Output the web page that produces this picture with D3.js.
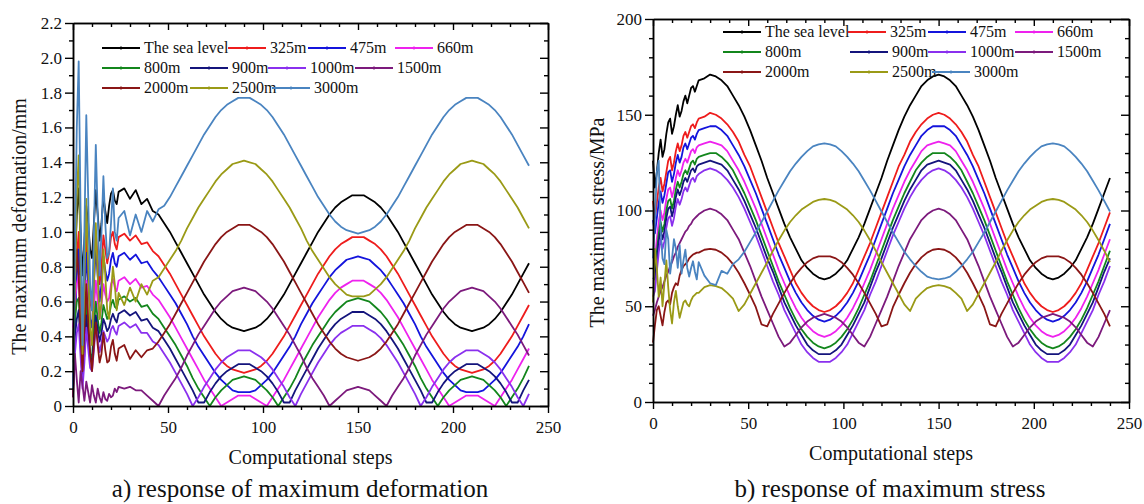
<!DOCTYPE html>
<html>
<head>
<meta charset="utf-8">
<script src="https://cdn.jsdelivr.net/npm/d3@7"></script>
<style>
  html, body { margin: 0; padding: 0; background: #fff; }
  svg { display: block; font-family: "Liberation Serif", "Times New Roman", serif; }
</style>
</head>
<body>
<svg id="chart" width="1144" height="504"></svg>
<script>
// ---------- data ----------
const steps = [0,1,2,3,4,5,6,7,8,9,10,11,12,13,14,15,16,17,18,19,20,21,22,23,24,
  27,30,33,36,39,42,45,48,51,54,57,60,63,66,69,72,75,78,81,84,87,90,93,96,99,102,105,108,111,114,117,
  120,123,126,129,132,135,138,141,144,147,150,153,156,159,162,165,168,171,174,177,180,183,186,189,192,
  195,198,201,204,207,210,213,216,219,222,225,228,231,234,237,240];

const seriesNames = ["The sea level","325m","475m","660m","800m","900m","1000m","1500m","2000m","2500m","3000m"];
const xTicks = [0,50,100,150,200,250];
const deformTicks = [0,0.2,0.4,0.6,0.8,1.0,1.2,1.4,1.6,1.8,2.0,2.2];
const stressTicks = [0,50,100,150,200];

// maximum deformation (mm)
const defSea = [0.30,0.80,1.10,1.25,1.00,0.75,0.95,1.15,1.05,0.90,0.85,1.05,1.24,1.10,0.95,1.05,1.20,1.12,1.05,1.15,1.22,1.24,1.18,1.16,1.23,
  1.25,1.19,1.24,1.16,1.19,1.12,1.10,1.05,1.00,0.94,0.88,0.82,0.76,0.70,0.64,0.59,0.54,0.50,0.47,0.45,0.44,0.43,
  0.44,0.45,0.47,0.50,0.54,0.59,0.64,0.70,0.76,0.82,0.88,0.94,1.00,1.05,1.10,1.14,1.17,1.19,1.21,1.21,
  1.21,1.19,1.17,1.14,1.10,1.05,1.00,0.94,0.88,0.82,0.76,0.70,0.64,0.59,0.54,0.50,0.47,0.45,0.44,0.43,
  0.44,0.45,0.47,0.50,0.54,0.59,0.64,0.70,0.76,0.82];
const def325 = [0.05,0.50,0.85,1.00,0.75,0.45,0.70,0.98,0.80,0.60,0.55,0.80,1.00,0.85,0.70,0.80,0.98,0.90,0.82,0.88,0.97,1.00,0.93,0.90,0.97,
  0.99,0.95,0.98,0.93,0.94,0.89,0.86,0.81,0.76,0.70,0.64,0.58,0.52,0.46,0.40,0.35,0.30,0.26,0.23,0.21,0.20,0.19,
  0.20,0.21,0.23,0.26,0.30,0.35,0.40,0.46,0.52,0.58,0.64,0.70,0.76,0.81,0.86,0.90,0.93,0.95,0.97,0.97,
  0.97,0.95,0.93,0.90,0.86,0.81,0.76,0.70,0.64,0.58,0.52,0.46,0.40,0.35,0.30,0.26,0.23,0.21,0.20,0.19,
  0.20,0.21,0.23,0.26,0.30,0.35,0.40,0.46,0.52,0.58];
const def475 = [0.10,0.45,0.75,0.90,0.60,0.30,0.55,0.88,0.70,0.50,0.45,0.70,0.90,0.75,0.60,0.70,0.86,0.78,0.72,0.76,0.84,0.88,0.82,0.80,0.86,
  0.88,0.84,0.87,0.82,0.83,0.78,0.74,0.69,0.64,0.59,0.53,0.47,0.40,0.34,0.29,0.24,0.19,0.15,0.12,0.09,0.08,0.08,
  0.08,0.09,0.12,0.15,0.19,0.24,0.29,0.34,0.40,0.47,0.53,0.59,0.64,0.69,0.74,0.78,0.81,0.84,0.85,0.86,
  0.85,0.84,0.81,0.78,0.74,0.69,0.64,0.59,0.53,0.47,0.40,0.34,0.29,0.24,0.19,0.15,0.12,0.09,0.08,0.08,
  0.08,0.09,0.12,0.15,0.19,0.24,0.29,0.34,0.40,0.47];
const def660 = [0.45,0.60,0.70,0.75,0.50,0.25,0.45,0.72,0.55,0.40,0.35,0.55,0.72,0.60,0.50,0.58,0.70,0.64,0.60,0.62,0.70,0.73,0.68,0.66,0.72,
  0.74,0.70,0.73,0.68,0.69,0.64,0.61,0.56,0.51,0.45,0.39,0.33,0.27,0.21,0.15,0.10,0.05,0.00,0.02,0.04,0.06,0.06,
  0.06,0.04,0.02,0.00,0.05,0.10,0.15,0.21,0.27,0.33,0.39,0.45,0.51,0.56,0.61,0.65,0.68,0.70,0.72,0.72,
  0.72,0.70,0.68,0.65,0.61,0.56,0.51,0.45,0.39,0.33,0.27,0.21,0.15,0.10,0.05,0.00,0.02,0.04,0.06,0.06,
  0.06,0.04,0.02,0.00,0.05,0.10,0.15,0.21,0.27,0.33];
const def800 = [0.35,0.50,0.60,0.62,0.40,0.20,0.35,0.60,0.45,0.30,0.28,0.45,0.60,0.50,0.42,0.48,0.58,0.54,0.50,0.52,0.58,0.61,0.57,0.56,0.61,
  0.63,0.60,0.62,0.57,0.58,0.53,0.50,0.45,0.40,0.35,0.29,0.23,0.16,0.10,0.05,0.00,0.05,0.09,0.12,0.15,0.16,0.17,
  0.16,0.15,0.12,0.09,0.05,0.00,0.05,0.10,0.16,0.23,0.29,0.35,0.40,0.45,0.50,0.54,0.57,0.60,0.61,0.62,
  0.61,0.60,0.57,0.54,0.50,0.45,0.40,0.35,0.29,0.23,0.16,0.10,0.05,0.00,0.05,0.09,0.12,0.15,0.16,0.17,
  0.16,0.15,0.12,0.09,0.05,0.00,0.05,0.10,0.16,0.23];
const def900 = [0.25,0.40,0.50,0.55,0.35,0.15,0.30,0.52,0.40,0.28,0.25,0.38,0.52,0.44,0.37,0.42,0.50,0.47,0.43,0.45,0.50,0.53,0.50,0.48,0.53,
  0.55,0.52,0.54,0.49,0.50,0.45,0.43,0.38,0.33,0.27,0.21,0.15,0.09,0.02,0.02,0.08,0.13,0.17,0.20,0.22,0.24,0.24,
  0.24,0.22,0.20,0.17,0.13,0.08,0.02,0.02,0.09,0.15,0.21,0.27,0.33,0.38,0.43,0.47,0.50,0.52,0.54,0.54,
  0.54,0.52,0.50,0.47,0.43,0.38,0.33,0.27,0.21,0.15,0.09,0.02,0.02,0.08,0.13,0.17,0.20,0.22,0.24,0.24,
  0.24,0.22,0.20,0.17,0.13,0.08,0.02,0.02,0.09,0.15];
const def1000 = [0.10,0.30,0.42,0.47,0.28,0.10,0.25,0.45,0.33,0.22,0.20,0.32,0.45,0.38,0.31,0.36,0.43,0.40,0.37,0.39,0.44,0.46,0.43,0.41,0.46,
  0.48,0.45,0.47,0.42,0.42,0.37,0.35,0.30,0.25,0.19,0.13,0.07,0.00,0.05,0.11,0.16,0.21,0.25,0.28,0.30,0.32,0.32,
  0.32,0.30,0.28,0.25,0.21,0.16,0.11,0.05,0.00,0.07,0.13,0.19,0.25,0.30,0.35,0.39,0.42,0.44,0.46,0.46,
  0.46,0.44,0.42,0.39,0.35,0.30,0.25,0.19,0.13,0.07,0.00,0.05,0.11,0.16,0.21,0.25,0.28,0.30,0.32,0.32,
  0.32,0.30,0.28,0.25,0.21,0.16,0.11,0.05,0.00,0.07];
const def1500 = [0.05,0.30,0.15,0.02,0.20,0.12,0.03,0.14,0.08,0.02,0.12,0.06,0.02,0.10,0.05,0.02,0.08,0.04,0.03,0.07,0.05,0.06,0.10,0.08,0.11,
  0.10,0.11,0.09,0.09,0.06,0.03,0.00,0.06,0.11,0.16,0.22,0.29,0.35,0.41,0.46,0.51,0.56,0.60,0.63,0.66,0.67,0.68,
  0.67,0.66,0.63,0.60,0.56,0.51,0.46,0.41,0.35,0.29,0.22,0.16,0.11,0.06,0.00,0.03,0.06,0.09,0.10,0.11,
  0.10,0.09,0.06,0.03,0.00,0.06,0.11,0.16,0.22,0.29,0.35,0.41,0.46,0.51,0.56,0.60,0.63,0.66,0.67,0.68,
  0.67,0.66,0.63,0.60,0.56,0.51,0.46,0.41,0.35,0.29];
const def2000 = [0.30,0.70,0.90,0.75,0.40,0.20,0.45,0.70,0.50,0.30,0.20,0.35,0.48,0.35,0.25,0.30,0.42,0.32,0.25,0.26,0.34,0.38,0.30,0.26,0.33,
  0.35,0.27,0.32,0.28,0.32,0.33,0.37,0.42,0.47,0.53,0.59,0.65,0.71,0.77,0.83,0.88,0.93,0.97,1.00,1.02,1.04,1.04,
  1.04,1.02,1.00,0.97,0.93,0.88,0.83,0.77,0.71,0.65,0.59,0.53,0.47,0.42,0.37,0.33,0.30,0.28,0.27,0.26,
  0.27,0.28,0.30,0.33,0.37,0.42,0.47,0.53,0.59,0.65,0.71,0.77,0.83,0.88,0.93,0.97,1.00,1.02,1.04,1.04,
  1.04,1.02,1.00,0.97,0.93,0.88,0.83,0.77,0.71,0.65];
const def2500 = [0.20,0.70,1.20,1.44,0.80,0.30,0.70,1.19,0.80,0.45,0.35,0.70,1.05,0.75,0.50,0.60,0.90,0.75,0.55,0.50,0.65,0.80,0.70,0.55,0.65,
  0.58,0.68,0.60,0.70,0.64,0.72,0.74,0.79,0.84,0.89,0.95,1.02,1.08,1.14,1.19,1.24,1.29,1.33,1.36,1.39,1.40,1.41,
  1.40,1.39,1.36,1.33,1.29,1.24,1.19,1.14,1.08,1.02,0.95,0.89,0.84,0.79,0.74,0.70,0.67,0.64,0.63,0.63,
  0.63,0.64,0.67,0.70,0.74,0.79,0.84,0.89,0.95,1.02,1.08,1.14,1.19,1.24,1.29,1.33,1.36,1.39,1.40,1.41,
  1.40,1.39,1.36,1.33,1.29,1.24,1.19,1.14,1.08,1.02];
const def3000 = [0.10,0.90,1.60,1.98,1.10,0.35,1.00,1.67,1.20,0.70,0.55,1.00,1.50,1.10,0.75,1.00,1.32,1.05,0.85,0.88,1.05,1.25,1.00,0.95,1.08,
  1.12,0.98,1.10,1.00,1.12,1.06,1.13,1.15,1.20,1.26,1.32,1.38,1.44,1.50,1.56,1.61,1.66,1.70,1.73,1.75,1.77,1.77,
  1.77,1.75,1.73,1.70,1.66,1.61,1.56,1.50,1.44,1.38,1.32,1.26,1.20,1.15,1.10,1.06,1.03,1.01,1.00,0.99,
  1.00,1.01,1.03,1.06,1.10,1.15,1.20,1.26,1.32,1.38,1.44,1.50,1.56,1.61,1.66,1.70,1.73,1.75,1.77,1.77,
  1.77,1.75,1.73,1.70,1.66,1.61,1.56,1.50,1.44,1.38];

// maximum stress (MPa)
const strSea = [126,112,120,130,137,128,132,140,146,148,140,144,150,155,149,152,157,160,156,160,164,165,162,165,168,
  169,171,170,168,165,160,155,149,142,134,126,117,109,101,93,86,80,74,70,67,65,64,
  65,67,70,74,80,86,93,101,109,117,126,134,142,149,155,160,165,168,170,171,
  170,168,165,160,155,149,142,134,126,117,109,101,93,86,80,74,70,67,65,64,
  65,67,70,74,80,86,93,101,109,117];
const str325 = [105,96,104,112,117,110,114,120,126,128,121,125,131,135,131,134,139,141,138,141,144,145,143,146,148,
  149,151,150,148,145,141,136,129,123,115,107,99,91,83,76,69,62,57,53,50,48,47,
  48,50,53,57,62,69,76,83,91,99,107,115,123,129,136,141,145,148,150,151,
  150,148,145,141,136,129,123,115,107,99,91,83,76,69,62,57,53,50,48,47,
  48,50,53,57,62,69,76,83,91,99];
const str475 = [95,88,96,104,110,104,108,114,120,121,115,119,125,129,125,128,133,135,132,135,138,139,137,140,142,
  143,144,144,142,139,134,129,123,116,109,101,93,85,77,70,63,57,52,48,45,43,42,
  43,45,48,52,57,63,70,77,85,93,101,109,116,123,129,134,139,142,144,144,
  144,142,139,134,129,123,116,109,101,93,85,77,70,63,57,52,48,45,43,42,
  43,45,48,52,57,63,70,77,85,93];
const str660 = [80,75,85,94,100,95,99,106,111,112,107,111,117,121,118,121,125,127,125,128,131,132,130,133,134,
  135,136,135,134,131,126,121,115,108,101,93,85,77,69,62,55,49,44,40,37,35,34,
  35,37,40,44,49,55,62,69,77,85,93,101,108,115,121,126,131,134,135,136,
  135,134,131,126,121,115,108,101,93,85,77,69,62,55,49,44,40,37,35,34,
  35,37,40,44,49,55,62,69,77,85];
const str800 = [70,68,78,88,94,89,93,100,105,106,101,105,111,115,112,115,119,121,119,122,125,126,124,127,128,
  129,130,130,128,125,121,115,109,102,95,87,79,71,63,56,49,43,38,34,31,29,28,
  29,31,34,38,43,49,56,63,71,79,87,95,102,109,115,121,125,128,130,130,
  130,128,125,121,115,109,102,95,87,79,71,63,56,49,43,38,34,31,29,28,
  29,31,34,38,43,49,56,63,71,79];
const str900 = [65,64,74,84,90,85,89,96,101,102,97,101,107,111,108,111,115,117,115,118,121,122,120,123,124,
  125,126,125,124,121,116,111,105,98,91,83,75,68,60,52,46,40,35,30,27,25,25,
  25,27,30,35,40,46,52,60,68,75,83,91,98,105,111,116,121,124,125,126,
  125,124,121,116,111,105,98,91,83,75,68,60,52,46,40,35,30,27,25,25,
  25,27,30,35,40,46,52,60,68,75];
const str1000 = [55,58,68,78,85,80,84,91,96,97,92,96,102,106,103,106,110,112,110,113,116,117,115,118,119,
  121,122,121,119,116,112,107,101,94,87,79,71,63,56,48,42,36,30,26,23,21,21,
  21,23,26,30,36,42,48,56,63,71,79,87,94,101,107,112,116,119,121,122,
  121,119,116,112,107,101,94,87,79,71,63,56,48,42,36,30,26,23,21,21,
  21,23,26,30,36,42,48,56,63,71];
const str1500 = [45,48,52,55,58,60,63,66,68,71,73,76,78,81,83,85,87,89,90,92,93,95,96,97,98,
  100,101,100,98,95,90,85,78,71,63,55,48,41,34,29,31,35,39,42,44,45,46,
  45,44,42,39,35,31,29,34,41,48,55,63,71,78,85,90,95,98,100,101,
  100,98,95,90,85,78,71,63,55,48,41,34,29,31,35,39,42,44,45,46,
  45,44,42,39,35,31,29,34,41,48];
const str2000 = [31,40,48,50,45,40,47,52,53,51,57,60,62,61,66,69,71,72,73,75,76,77,77.5,78,78,
  79.5,80,79.5,78,75.5,72,67.5,62,56,49.5,40.5,39.5,46,51.5,57,62,66.5,70,73,75,76,76,
  76,75,73,70,66.5,62,57,51.5,46,39.5,40.5,49.5,56,62,67.5,72,75.5,78,79.5,80,
  79.5,78,75.5,72,67.5,62,56,49.5,40.5,39.5,46,51.5,57,62,66.5,70,73,75,76,76,
  76,75,73,70,66.5,62,57,51.5,46,39.5];
const str2500 = [52,80,70,55,65,50,62,74,60,48,41,52,58,50,44,48,52,53,51,50,53,55,56,57,57,
  60,61,60.5,59.5,57,54,47.5,51,56.5,62,67.5,73,79,84.5,89.5,94,97.5,100.5,102.5,104.5,105.5,106,
  105.5,104.5,102.5,100.5,97.5,94,89.5,84.5,79,73,67.5,62,56.5,51,47.5,54,57,59.5,60.5,61,
  60.5,59.5,57,54,47.5,51,56.5,62,67.5,73,79,84.5,89.5,94,97.5,100.5,102.5,104.5,105.5,106,
  105.5,104.5,102.5,100.5,97.5,94,89.5,84.5,79,73];
const str3000 = [75,95,120,126,90,75,72,90,85,67,75,85,80,70,82,67,74,79.5,70,65.5,70,73.5,68,64,73,
  66,62,61,68.5,67,72,74.5,78.5,83.5,88.5,94,99.5,105,110.5,115.5,120.5,124.5,128,131,133.5,134.5,135,
  134.5,133.5,131,128,124.5,120.5,115.5,110.5,105,99.5,94,88.5,83.5,78.5,74.5,71,68,65.5,64.5,64,
  64.5,65.5,68,71,74.5,78.5,83.5,88.5,94,99.5,105,110.5,115.5,120.5,124.5,128,131,133.5,134.5,135,
  134.5,133.5,131,128,124.5,120.5,115.5,110.5,105,99.5];

const deformSeries = [defSea, def325, def475, def660, def800, def900, def1000, def1500, def2000, def2500, def3000];
const stressSeries = [strSea, str325, str475, str660, str800, str900, str1000, str1500, str2000, str2500, str3000];

// ---------- styling ----------
const colors = ["#000000","#ee1c1c","#1414dc","#ee22ee","#13861c","#14147c","#8a30ee","#7c1a7c","#8a1616","#9a9a16","#4a84c0"];

const svg = d3.select("#chart");

function drawPanel(cfg) {
  const x = d3.scaleLinear().domain([0, 250]).range([cfg.left, cfg.right]);
  const y = d3.scaleLinear().domain([0, cfg.yMax]).range([cfg.bottom, cfg.top]);
  const g = svg.append("g");

  // curves
  const line = d3.line()
    .defined((d, i) => i < steps.length && d != null)
    .x((d, i) => x(steps[i]))
    .y(d => y(d));
  cfg.series.forEach((vals, i) => {
    g.append("path")
      .attr("d", line(vals))
      .attr("fill", "none")
      .attr("stroke", colors[i])
      .attr("stroke-width", 1.8)
      .attr("stroke-linejoin", "round");
  });

  const xMinor = d3.range(0, 251, 10).filter(v => v % 50 !== 0);
  const yMinor = cfg.yMinor;

  function styleAxis(sel) {
    sel.selectAll("path.domain").attr("stroke", "#000").attr("stroke-width", 1.5);
    sel.selectAll("line").attr("stroke", "#000").attr("stroke-width", 1.4);
    sel.selectAll("text").attr("font-family", "Liberation Serif, Times New Roman, serif")
      .attr("font-size", 17).attr("fill", "#111");
  }

  // bottom axis
  g.append("g").attr("transform", `translate(0,${cfg.bottom})`)
    .call(d3.axisBottom(x).tickValues(xTicks).tickSize(7).tickSizeOuter(0).tickPadding(8).tickFormat(d3.format("d")))
    .call(styleAxis);
  g.append("g").attr("transform", `translate(0,${cfg.bottom})`)
    .call(d3.axisBottom(x).tickValues(xMinor).tickSize(4).tickSizeOuter(0).tickFormat(""))
    .call(styleAxis);
  // top axis (inward ticks)
  g.append("g").attr("transform", `translate(0,${cfg.top})`)
    .call(d3.axisTop(x).tickValues(xTicks).tickSize(-7).tickSizeOuter(0).tickFormat(""))
    .call(styleAxis);
  g.append("g").attr("transform", `translate(0,${cfg.top})`)
    .call(d3.axisTop(x).tickValues(xMinor).tickSize(-4).tickSizeOuter(0).tickFormat(""))
    .call(styleAxis);
  // left axis
  g.append("g").attr("transform", `translate(${cfg.left},0)`)
    .call(d3.axisLeft(y).tickValues(cfg.yTicks).tickSize(8).tickSizeOuter(0).tickPadding(3).tickFormat(cfg.yFormat))
    .call(styleAxis);
  g.append("g").attr("transform", `translate(${cfg.left},0)`)
    .call(d3.axisLeft(y).tickValues(yMinor).tickSize(4).tickSizeOuter(0).tickFormat(""))
    .call(styleAxis);
  // right axis (inward ticks)
  g.append("g").attr("transform", `translate(${cfg.right},0)`)
    .call(d3.axisRight(y).tickValues(cfg.yTicks).tickSize(-8).tickSizeOuter(0).tickFormat(""))
    .call(styleAxis);
  g.append("g").attr("transform", `translate(${cfg.right},0)`)
    .call(d3.axisRight(y).tickValues(yMinor).tickSize(-4).tickSizeOuter(0).tickFormat(""))
    .call(styleAxis);

  // axis titles
  const cx = (cfg.left + cfg.right) / 2;
  g.append("text")
    .attr("x", cx).attr("y", cfg.bottom + 58)
    .attr("text-anchor", "middle").attr("font-size", 20).attr("fill", "#111")
    .text("Computational steps");
  g.append("text")
    .attr("transform", `translate(${cfg.yTitleX},${(cfg.top + cfg.bottom) / 2 + 12}) rotate(-90)`)
    .attr("text-anchor", "middle").attr("font-size", 20).attr("fill", "#111")
    .text(cfg.yTitle);
  // caption
  g.append("text")
    .attr("x", cfg.captionX).attr("y", 497)
    .attr("text-anchor", "middle").attr("font-size", 25).attr("fill", "#111")
    .text(cfg.caption);

  // legend
  const lg = g.append("g").attr("font-size", 16).attr("fill", "#111");
  cfg.legend.forEach((row, r) => {
    const ly = cfg.legendY + r * 20;
    row.forEach(([idx, lx]) => {
      lg.append("line").attr("x1", lx).attr("x2", lx + 38).attr("y1", ly).attr("y2", ly)
        .attr("stroke", colors[idx]).attr("stroke-width", 2);
      lg.append("line").attr("x1", lx + 19).attr("x2", lx + 19).attr("y1", ly - 1.5).attr("y2", ly + 1.5)
        .attr("stroke", colors[idx]).attr("stroke-width", 1.5);
      lg.append("text").attr("x", lx + 42).attr("y", ly + 5).text(seriesNames[idx]);
    });
  });
}

drawPanel({
  left: 73, right: 548, top: 23, bottom: 406, yMax: 2.2,
  yTicks: deformTicks, yMinor: d3.range(1, 22, 2).map(v => v / 10),
  yFormat: d => d === 0 ? "0" : d3.format(".1f")(d),
  yTitle: "The maximum deformation/mm", yTitleX: 26,
  caption: "a) response of maximum deformation", captionX: 300,
  series: deformSeries,
  legendY: 48,
  legend: [
    [[0, 102], [1, 228], [2, 308], [3, 395]],
    [[4, 102], [5, 190], [6, 268], [7, 355]],
    [[8, 102], [9, 190], [10, 272]]
  ]
});

drawPanel({
  left: 653, right: 1129, top: 19, bottom: 402, yMax: 200,
  yTicks: stressTicks, yMinor: d3.range(10, 200, 10).filter(v => v % 50 !== 0),
  yFormat: d3.format("d"),
  yTitle: "The maximum stress/MPa", yTitleX: 604,
  caption: "b) response of maximum stress", captionX: 890,
  series: stressSeries,
  legendY: 32,
  legend: [
    [[0, 723], [1, 848], [2, 928], [3, 1015]],
    [[4, 723], [5, 850], [6, 928], [7, 1015]],
    [[8, 723], [9, 850], [10, 932]]
  ]
});
</script>
</body>
</html>
